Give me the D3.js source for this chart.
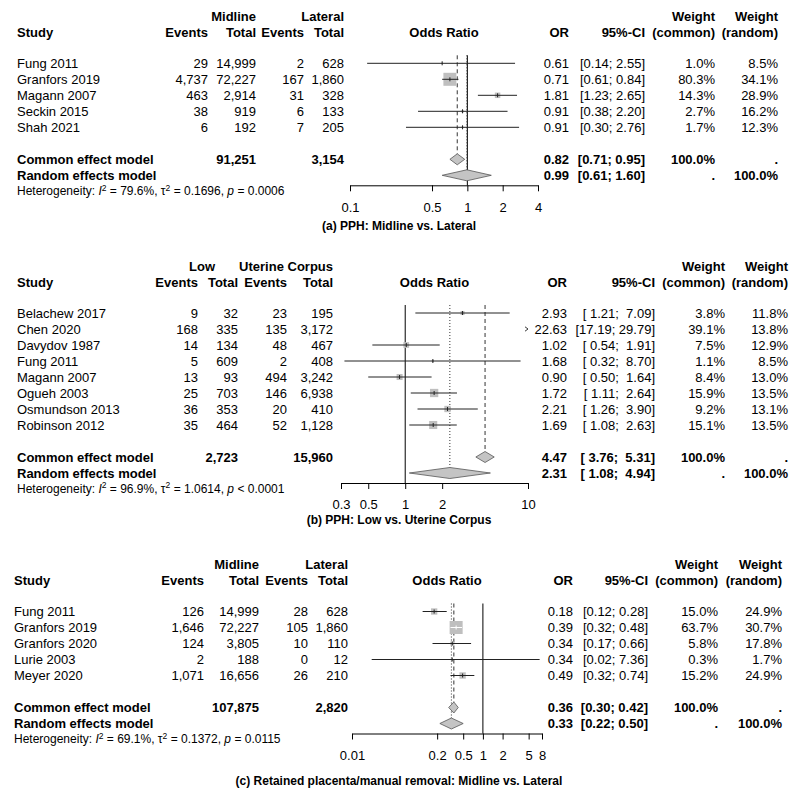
<!DOCTYPE html>
<html><head><meta charset="utf-8">
<script src="https://cdn.jsdelivr.net/npm/d3@7"></script>
<style>
body{margin:0;background:#fff;}
svg text{font-family:"Liberation Sans",Arial,Helvetica,sans-serif;fill:#000;}
</style></head><body>
<svg id="chart" width="798" height="795"></svg>
<script>
// ---------------- Panel (a) ----------------
const aStudy   = ["Fung 2011","Granfors 2019","Magann 2007","Seckin 2015","Shah 2021"];
const aEventsE = [29,4737,463,38,6];
const aTotalE  = [14999,72227,2914,919,192];
const aEventsC = [2,167,31,6,7];
const aTotalC  = [628,1860,328,133,205];
const aOR      = [0.61,0.71,1.81,0.91,0.91];
const aLower   = [0.14,0.61,1.23,0.38,0.30];
const aUpper   = [2.55,0.84,2.65,2.20,2.76];
const aWCommon = [1.0,80.3,14.3,2.7,1.7];
const aWRandom = [8.5,34.1,28.9,16.2,12.3];
const aCommon  = [0.82,0.71,0.95];
const aRandom  = [0.99,0.61,1.60];
const aTotals  = [91251,3154];
const aHet     = ["79.6%","0.1696","= 0.0006"];
const aGroups  = ["Midline","Lateral"];
const aTicks   = [0.1,0.5,1,2,4];
const aTickLabels = ["0.1","0.5","1","2","4"];
const aCaption = "(a) PPH: Midline vs. Lateral";

// ---------------- Panel (b) ----------------
const bStudy   = ["Belachew 2017","Chen 2020","Davydov 1987","Fung 2011","Magann 2007","Ogueh 2003","Osmundson 2013","Robinson 2012"];
const bEventsE = [9,168,14,5,13,25,36,35];
const bTotalE  = [32,335,134,609,93,703,353,464];
const bEventsC = [23,135,48,2,494,146,20,52];
const bTotalC  = [195,3172,467,408,3242,6938,410,1128];
const bOR      = [2.93,22.63,1.02,1.68,0.90,1.72,2.21,1.69];
const bLower   = [1.21,17.19,0.54,0.32,0.50,1.11,1.26,1.08];
const bUpper   = [7.09,29.79,1.91,8.70,1.64,2.64,3.90,2.63];
const bWCommon = [3.8,39.1,7.5,1.1,8.4,15.9,9.2,15.1];
const bWRandom = [11.8,13.8,12.9,8.5,13.0,13.5,13.1,13.5];
const bCommon  = [4.47,3.76,5.31];
const bRandom  = [2.31,1.08,4.94];
const bTotals  = [2723,15960];
const bHet     = ["96.9%","1.0614","< 0.0001"];
const bGroups  = ["Low","Uterine Corpus"];
const bTicks   = [0.3,0.5,1,2,10];
const bTickLabels = ["0.3","0.5","1","2","10"];
const bCaption = "(b) PPH: Low vs. Uterine Corpus";

// ---------------- Panel (c) ----------------
const cStudy   = ["Fung 2011","Granfors 2019","Granfors 2020","Lurie 2003","Meyer 2020"];
const cEventsE = [126,1646,124,2,1071];
const cTotalE  = [14999,72227,3805,188,16656];
const cEventsC = [28,105,10,0,26];
const cTotalC  = [628,1860,110,12,210];
const cOR      = [0.18,0.39,0.34,0.34,0.49];
const cLower   = [0.12,0.32,0.17,0.02,0.32];
const cUpper   = [0.28,0.48,0.66,7.36,0.74];
const cWCommon = [15.0,63.7,5.8,0.3,15.2];
const cWRandom = [24.9,30.7,17.8,1.7,24.9];
const cCommon  = [0.36,0.30,0.42];
const cRandom  = [0.33,0.22,0.50];
const cTotals  = [107875,2820];
const cHet     = ["69.1%","0.1372","= 0.0115"];
const cGroups  = ["Midline","Lateral"];
const cTicks   = [0.01,0.2,0.5,1,2,5,8];
const cTickLabels = ["0.01","0.2","0.5","1","2","5","8"];
const cCaption = "(c) Retained placenta/manual removal: Midline vs. Lateral";

// ---------------- Layout (positions only) ----------------
const layoutA = {left:17, evE:208, totE:256, evC:304, totC:344, grpE:256, grpC:344,
  or:569, ci:645, wc:715, wr:778, xRange:[350,538], h1:16.7, h2:32.7, row0:63.3, captionY:226};
const layoutB = {left:17, evE:198, totE:238, evC:287, totC:333, grpE:215, grpC:333,
  or:567, ci:655, wc:725, wr:788, xRange:[341,528], h1:266, h2:282, row0:313, captionY:520};
const layoutC = {left:14, evE:204, totE:259, evC:308, totC:348, grpE:259, grpC:348,
  or:573, ci:648, wc:718, wr:782, xRange:[352,542], h1:564, h2:580, row0:611.5, captionY:781};

const fmtInt = d3.format(",");
const fmt2 = d3.format(".2f");
const fmtW = v => d3.format(".1f")(v) + "%";
const FS = 13, STEP = 16, BOXMAX = 13, DH = 11;
const svg = d3.select("#chart");

function padStart(s, n){ while (s.length < n) s = " " + s; return s; }

function drawPanel(P, L){
  const g = svg.append("g");
  const n = P.study.length;
  const x = d3.scaleLog().domain([P.ticks[0], P.ticks[P.ticks.length-1]]).range(L.xRange);
  const [dmin, dmax] = x.domain();
  const rowY = i => L.row0 + i*STEP;
  const yCommon = L.row0 + (n+1)*STEP;
  const yRandom = yCommon + STEP;
  const yHet = yRandom + 15.5;
  const axisY = yRandom + 10;
  const base = y => y + 4.65;

  function txt(xp, y, s, anchor, bold, size){
    return g.append("text").attr("x", xp).attr("y", base(y))
      .attr("text-anchor", anchor || "end")
      .attr("xml:space","preserve").style("white-space","pre")
      .style("font-size", (size||FS) + "px")
      .style("font-weight", bold ? "bold" : "normal")
      .text(s);
  }

  // CI strings, padded like R
  const lowS = P.lower.map(fmt2).concat([fmt2(P.common[1]), fmt2(P.random[1])]);
  const upS  = P.upper.map(fmt2).concat([fmt2(P.common[2]), fmt2(P.random[2])]);
  const lw = d3.max(lowS, s=>s.length), uw = d3.max(upS, s=>s.length);
  const ciStr = lowS.map((l,i)=> "[" + padStart(l,lw) + "; " + padStart(upS[i],uw) + "]");

  // headers
  txt(L.grpE, L.h1, P.groups[0], "end", true);
  txt(L.grpC, L.h1, P.groups[1], "end", true);
  txt(L.wc, L.h1, "Weight", "end", true);
  txt(L.wr, L.h1, "Weight", "end", true);
  txt(L.left, L.h2, "Study", "start", true);
  txt(L.evE, L.h2, "Events", "end", true);
  txt(L.totE, L.h2, "Total", "end", true);
  txt(L.evC, L.h2, "Events", "end", true);
  txt(L.totC, L.h2, "Total", "end", true);
  txt((L.xRange[0]+L.xRange[1])/2, L.h2, "Odds Ratio", "middle", true);
  txt(L.or, L.h2, "OR", "end", true);
  txt(L.ci, L.h2, "95%-CI", "end", true);
  txt(L.wc, L.h2, "(common)", "end", true);
  txt(L.wr, L.h2, "(random)", "end", true);

  // study rows text
  P.study.forEach((s,i)=>{
    const y = rowY(i);
    txt(L.left, y, s, "start");
    txt(L.evE, y, fmtInt(P.eventsE[i]));
    txt(L.totE, y, fmtInt(P.totalE[i]));
    txt(L.evC, y, fmtInt(P.eventsC[i]));
    txt(L.totC, y, fmtInt(P.totalC[i]));
    txt(L.or, y, fmt2(P.or[i]));
    txt(L.ci, y, ciStr[i]);
    txt(L.wc, y, fmtW(P.wCommon[i]));
    txt(L.wr, y, fmtW(P.wRandom[i]));
  });

  // summary rows text
  txt(L.left, yCommon, "Common effect model", "start", true);
  txt(L.totE, yCommon, fmtInt(P.totals[0]), "end", true);
  txt(L.totC, yCommon, fmtInt(P.totals[1]), "end", true);
  txt(L.or, yCommon, fmt2(P.common[0]), "end", true);
  txt(L.ci, yCommon, ciStr[n], "end", true);
  txt(L.wc, yCommon, "100.0%", "end", true);
  txt(L.wr, yCommon, ".", "end", true);
  txt(L.left, yRandom, "Random effects model", "start", true);
  txt(L.or, yRandom, fmt2(P.random[0]), "end", true);
  txt(L.ci, yRandom, ciStr[n+1], "end", true);
  txt(L.wc, yRandom, ".", "end", true);
  txt(L.wr, yRandom, "100.0%", "end", true);

  // heterogeneity
  const ht = g.append("text").attr("x", L.left).attr("y", yHet + 4.3)
    .attr("xml:space","preserve").style("white-space","pre").style("font-size","12px");
  ht.append("tspan").text("Heterogeneity: ");
  ht.append("tspan").style("font-style","italic").text("I");
  ht.append("tspan").attr("dy",-4.5).style("font-size","8.5px").text("2");
  ht.append("tspan").attr("dy",4.5).text(" = " + P.het[0] + ", \u03c4");
  ht.append("tspan").attr("dy",-4.5).style("font-size","8.5px").text("2");
  ht.append("tspan").attr("dy",4.5).text(" = " + P.het[1] + ", ");
  ht.append("tspan").style("font-style","italic").text("p");
  ht.append("tspan").text(" " + P.het[2]);

  // reference lines
  const topY = rowY(0) - 8;
  g.append("line").attr("x1", x(1)).attr("x2", x(1)).attr("y1", topY).attr("y2", axisY)
    .attr("stroke","#000").attr("stroke-width",1);
  g.append("line").attr("x1", x(P.common[0])).attr("x2", x(P.common[0]))
    .attr("y1", topY).attr("y2", yCommon - DH/2)
    .attr("stroke","#333").attr("stroke-width",1).attr("stroke-dasharray","4,3");
  g.append("line").attr("x1", x(P.random[0])).attr("x2", x(P.random[0]))
    .attr("y1", topY).attr("y2", yRandom - DH/2)
    .attr("stroke","#333").attr("stroke-width",1).attr("stroke-dasharray","1,2");

  // study marks
  const wMax = d3.max(P.wCommon);
  P.study.forEach((s,i)=>{
    const y = rowY(i);
    if (P.lower[i] > dmax || P.upper[i] < dmin) {
      const ex = P.lower[i] > dmax ? x(dmax) : x(dmin);
      const dir = P.lower[i] > dmax ? -1 : 1;
      g.append("path").attr("d", `M${ex+dir*3},${y-2.2}L${ex},${y}L${ex+dir*3},${y+2.2}`)
        .attr("fill","none").attr("stroke","#222").attr("stroke-width",0.9);
      return;
    }
    const side = BOXMAX * Math.sqrt(P.wCommon[i] / wMax);
    const cx = x(P.or[i]);
    const x1 = x(Math.max(P.lower[i], dmin)), x2 = x(Math.min(P.upper[i], dmax));
    const inside = x1 >= cx - side/2 && x2 <= cx + side/2;
    g.append("rect").attr("x", cx - side/2).attr("y", y - side/2)
      .attr("width", side).attr("height", side).attr("fill","#bfbfbf");
    const col = inside ? "#fff" : "#222";
    g.append("line").attr("x1", x1).attr("x2", x2).attr("y1", y).attr("y2", y)
      .attr("stroke", col).attr("stroke-width",1);
    g.append("line").attr("x1", cx).attr("x2", cx).attr("y1", y-2).attr("y2", y+2)
      .attr("stroke", col).attr("stroke-width",1);
  });

  // diamonds
  [[P.common, yCommon],[P.random, yRandom]].forEach(([m,y])=>{
    const pts = [[x(m[1]),y],[x(m[0]),y-DH/2],[x(m[2]),y],[x(m[0]),y+DH/2]];
    g.append("path").attr("d", "M" + pts.map(p=>p.join(",")).join("L") + "Z")
      .attr("fill","#c4c4c4").attr("stroke","#555").attr("stroke-width",0.8);
  });

  // axis
  const axis = d3.axisBottom(x).tickValues(P.ticks)
    .tickFormat((d,i)=>P.tickLabels[i]).tickSize(6).tickSizeOuter(0).tickPadding(11);
  const ag = g.append("g").attr("transform", `translate(0,${axisY})`).call(axis);
  ag.selectAll("path,line").attr("stroke","#000");
  ag.selectAll("text").style("font-size", FS + "px")
    .style("font-family",'"Liberation Sans",Arial,sans-serif').attr("fill","#000");

  // caption
  g.append("text").attr("x", 399).attr("y", L.captionY + 4.3).attr("text-anchor","middle")
    .style("font-size","12px").style("font-weight","bold").text(P.caption);
}

drawPanel({study:aStudy, eventsE:aEventsE, totalE:aTotalE, eventsC:aEventsC, totalC:aTotalC,
  or:aOR, lower:aLower, upper:aUpper, wCommon:aWCommon, wRandom:aWRandom,
  common:aCommon, random:aRandom, totals:aTotals, het:aHet, groups:aGroups,
  ticks:aTicks, tickLabels:aTickLabels, caption:aCaption}, layoutA);
drawPanel({study:bStudy, eventsE:bEventsE, totalE:bTotalE, eventsC:bEventsC, totalC:bTotalC,
  or:bOR, lower:bLower, upper:bUpper, wCommon:bWCommon, wRandom:bWRandom,
  common:bCommon, random:bRandom, totals:bTotals, het:bHet, groups:bGroups,
  ticks:bTicks, tickLabels:bTickLabels, caption:bCaption}, layoutB);
drawPanel({study:cStudy, eventsE:cEventsE, totalE:cTotalE, eventsC:cEventsC, totalC:cTotalC,
  or:cOR, lower:cLower, upper:cUpper, wCommon:cWCommon, wRandom:cWRandom,
  common:cCommon, random:cRandom, totals:cTotals, het:cHet, groups:cGroups,
  ticks:cTicks, tickLabels:cTickLabels, caption:cCaption}, layoutC);
</script>
</body></html>
